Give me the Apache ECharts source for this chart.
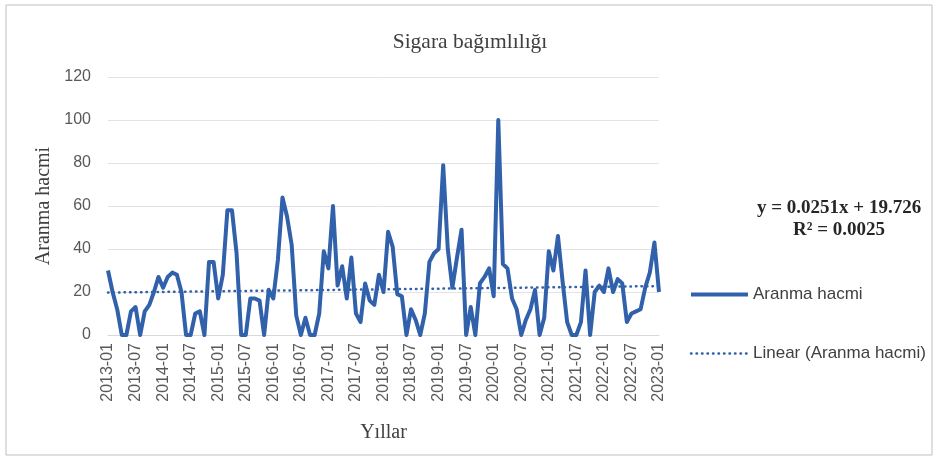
<!DOCTYPE html>
<html lang="tr">
<head>
    <meta charset="UTF-8">
    <title>Sigara bağımlılığı</title>
    <script src="https://cdn.jsdelivr.net/npm/echarts@6/dist/echarts.min.js"></script>
    <style>
        html, body { margin: 0; padding: 0; background: #fff; }
        #main { width: 940px; height: 461px; }
    </style>
</head>
<body>
<div id="main"></div>
<script>
    // monthly categories 2013-01 .. 2023-01
    var months = [];
    for (var y = 2013; y <= 2023; y++) {
        for (var m = 1; m <= 12; m++) {
            if (y === 2023 && m > 1) break;
            months.push(y + '-' + (m < 10 ? '0' + m : m));
        }
    }

    var aranmaHacmi = [
        30, 20, 12, 0, 0, 11, 13, 0, 11, 14, 20, 27,
        22, 27, 29, 28, 20, 0, 0, 10, 11, 0, 34, 34,
        17, 28, 58, 58, 38, 0, 0, 17, 17, 16, 0, 21,
        17, 35, 64, 55, 42, 9, 0, 8, 0, 0, 10, 39,
        31, 60, 23, 32, 17, 36, 10, 6, 24, 16, 14, 28,
        20, 48, 41, 19, 18, 0, 12, 7, 0, 10, 34, 38,
        40, 79, 40, 22, 36, 49, 0, 13, 0, 24, 27, 31,
        18, 100, 33, 31, 17, 12, 0, 7, 12, 21, 0, 8,
        39, 30, 46, 25, 6, 0, 0, 6, 30, 0, 20, 23,
        20, 31, 20, 26, 24, 6, 10, 11, 12, 22, 29, 43,
        20
    ];

    // trendline end points
    var trendEnds = [[0, 19.75], [120, 22.76]];
    var equationLines = ['y = 0.0251x + 19.726', 'R² = 0.0025'];

    var blue = '#3061aa';
    var chart = echarts.init(document.getElementById('main'));

    var option = {
        backgroundColor: '#fff',
        animation: false,
        title: {
            text: 'Sigara bağımlılığı',
            left: 'center',
            top: 26,
            textStyle: {fontFamily: 'Liberation Serif', fontSize: 21.5, fontWeight: 'normal', color: '#404040'}
        },
        grid: {left: 108, top: 77, width: 551, height: 258},
        legend: {
            orient: 'vertical',
            left: 684,
            top: 281,
            itemWidth: 57,
            itemHeight: 14,
            itemGap: 42,
            itemStyle: {opacity: 0},
            textStyle: {fontFamily: 'Liberation Sans', fontSize: 17, color: '#404040'},
            data: [
                {name: 'Aranma hacmi', lineStyle: {width: 4}},
                {name: 'Linear (Aranma hacmi)', lineStyle: {width: 2.5}}
            ]
        },
        xAxis: {
            type: 'category',
            data: months,
            boundaryGap: false,
            name: 'Yıllar',
            nameLocation: 'middle',
            nameGap: 88,
            nameTextStyle: {fontFamily: 'Liberation Serif', fontSize: 20, color: '#404040'},
            axisLine: {lineStyle: {color: '#d9d9d9'}},
            axisTick: {show: false},
            axisLabel: {
                interval: 5,
                rotate: 90,
                margin: 8,
                fontFamily: 'Liberation Sans',
                fontSize: 16,
                color: '#595959'
            }
        },
        yAxis: {
            type: 'value',
            min: 0,
            max: 120,
            interval: 20,
            name: 'Aranma hacmi',
            nameLocation: 'middle',
            nameGap: 49,
            nameTextStyle: {fontFamily: 'Liberation Serif', fontSize: 20, color: '#404040'},
            axisLine: {show: false},
            axisTick: {show: false},
            axisLabel: {fontFamily: 'Liberation Sans', fontSize: 16, color: '#595959', margin: 17},
            splitLine: {lineStyle: {color: '#e3e3e3'}}
        },
        graphic: [
            {
                type: 'rect',
                shape: {x: 6, y: 5, width: 926, height: 450},
                style: {fill: 'none', stroke: '#bfbfbf', lineWidth: 1},
                silent: true
            },
            {
                type: 'text',
                left: 757,
                top: 197,
                style: {
                    text: equationLines.join('\n'),
                    textAlign: 'center',
                    font: 'bold 19px "Liberation Serif"',
                    lineHeight: 22,
                    fill: '#262626'
                }
            }
        ],
        series: [
            {
                name: 'Aranma hacmi',
                type: 'line',
                data: aranmaHacmi,
                symbol: 'none',
                lineStyle: {color: blue, width: 4, join: 'round'},
                itemStyle: {color: blue}
            },
            {
                name: 'Linear (Aranma hacmi)',
                type: 'line',
                data: trendEnds,
                symbol: 'none',
                lineStyle: {color: blue, width: 2.5, type: [0.5, 5], cap: 'round'},
                itemStyle: {color: blue}
            }
        ]
    };

    chart.setOption(option);
</script>
</body>
</html>
